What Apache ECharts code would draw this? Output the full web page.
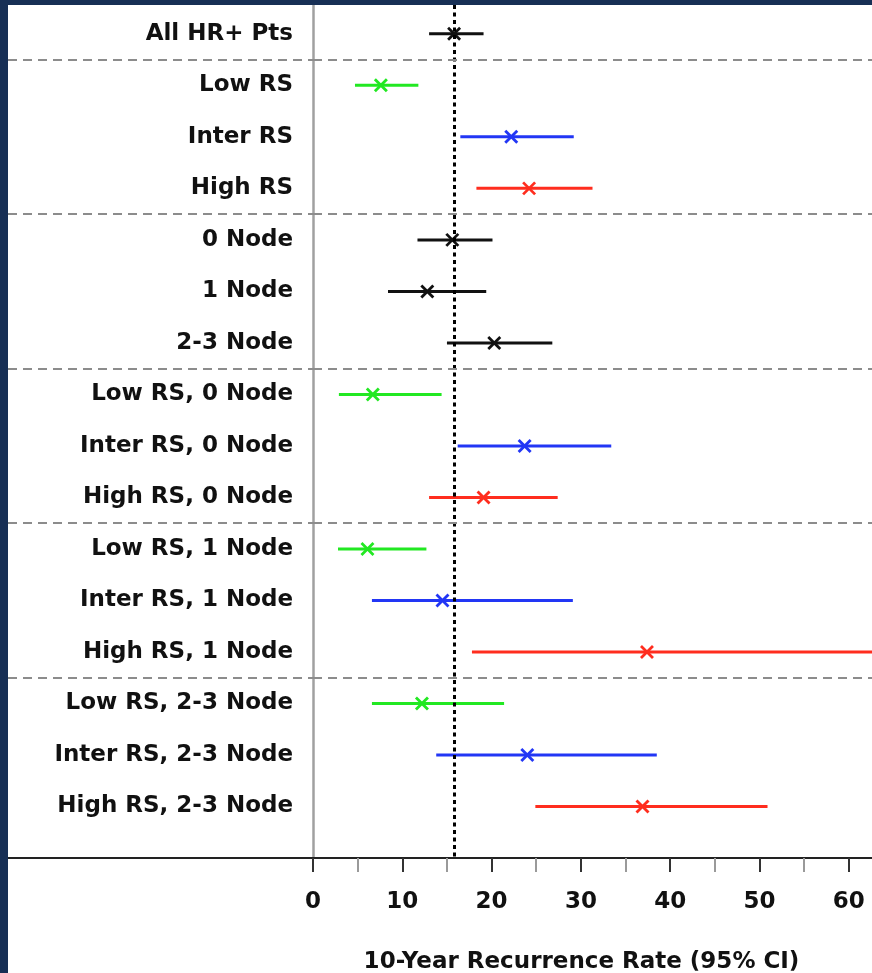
<!DOCTYPE html>
<html>
<head>
<meta charset="utf-8">
<script src="https://cdn.jsdelivr.net/npm/echarts@6/dist/echarts.min.js"></script>
<style>
  html, body { margin: 0; padding: 0; width: 872px; height: 973px; background: #172f55; overflow: hidden; }
  #chart { position: absolute; left: 8px; top: 5px; width: 864px; height: 968px; background: #ffffff; }
</style>
</head>
<body>
<div id="chart"></div>
<script>
const categories = ['All HR+ Pts', 'Low RS', 'Inter RS', 'High RS', '0 Node', '1 Node', '2-3 Node',
  'Low RS, 0 Node', 'Inter RS, 0 Node', 'High RS, 0 Node',
  'Low RS, 1 Node', 'Inter RS, 1 Node', 'High RS, 1 Node',
  'Low RS, 2-3 Node', 'Inter RS, 2-3 Node', 'High RS, 2-3 Node'];
const estimates = [15.8, 7.6, 22.2, 24.2, 15.6, 12.8, 20.3, 6.7, 23.7, 19.1, 6.1, 14.5, 37.4, 12.2, 24.0, 36.9];
const lowers    = [13.0, 4.7, 16.5, 18.3, 11.7, 8.4, 15.0, 2.9, 16.2, 13.0, 2.8, 6.6, 17.8, 6.6, 13.8, 24.9];
const uppers    = [19.1, 11.8, 29.2, 31.3, 20.1, 19.4, 26.8, 14.4, 33.4, 27.4, 12.7, 29.1, 72.0, 21.4, 38.5, 50.9];
const groups    = ['all', 'low', 'inter', 'high', 'all', 'all', 'all', 'low', 'inter', 'high', 'low', 'inter', 'high', 'low', 'inter', 'high'];
const overallRate = 15.8;
const separators = [0.5, 3.5, 6.5, 9.5, 12.5];
const majorTicks = [0, 10, 20, 30, 40, 50, 60];
const minorTicks = [5, 15, 25, 35, 45, 55];
const xTitle = '10-Year Recurrence Rate (95% CI)';

const groupColors = { all: '#111111', low: '#22e822', inter: '#2236f5', high: '#ff2d1e' };
const rowIndex = categories.map((c, i) => i);
const FONT = 'DejaVu Sans';

const data = categories.map((c, i) => [lowers[i], uppers[i], estimates[i], i]);

function renderItem(params, api) {
  const y = api.value(3);
  const p1 = api.coord([api.value(0), y]);
  const p2 = api.coord([api.value(1), y]);
  const pc = api.coord([api.value(2), y]);
  const color = groupColors[groups[params.dataIndex]];
  const s = 6;
  return {
    type: 'group',
    children: [
      { type: 'line', shape: { x1: p1[0], y1: p1[1], x2: p2[0], y2: p2[1] }, style: { stroke: color, lineWidth: 3 } },
      { type: 'line', shape: { x1: pc[0] - s, y1: pc[1] - s, x2: pc[0] + s, y2: pc[1] + s }, style: { stroke: color, lineWidth: 2.8 } },
      { type: 'line', shape: { x1: pc[0] - s, y1: pc[1] + s, x2: pc[0] + s, y2: pc[1] - s }, style: { stroke: color, lineWidth: 2.8 } }
    ]
  };
}

const sepLine = {
  silent: true, symbol: 'none', animation: false,
  label: { show: false },
  lineStyle: { color: '#8c8c8c', width: 2, type: [9, 6] },
  data: separators.map(v => ({ yAxis: v }))
};

const yRange = { min: -0.56, max: 16 };

const chart = echarts.init(document.getElementById('chart'));
chart.setOption({
  backgroundColor: '#ffffff',
  animation: false,
  grid: [
    { left: 305, right: 0, top: 0, height: 853, outerBoundsMode: 'none', containLabel: false },
    { left: 0, width: 305, top: 0, height: 853, outerBoundsMode: 'none', containLabel: false },
    { left: 305, right: 0, top: 0, height: 853, outerBoundsMode: 'none', containLabel: false }
  ],
  xAxis: [
    {
      type: 'value', gridIndex: 0, min: 0, max: 62.6, position: 'bottom',
      axisLine: { show: true, onZero: false, lineStyle: { color: '#222222', width: 2 } },
      axisTick: { show: true, customValues: majorTicks, length: 14, lineStyle: { color: '#333333', width: 2 } },
      axisLabel: { customValues: majorTicks, margin: 33, fontFamily: FONT, fontWeight: 'bold', fontSize: 23, color: '#111111' },
      splitLine: { show: false },
      name: xTitle, nameLocation: 'middle', nameGap: 93,
      nameTextStyle: { fontFamily: FONT, fontWeight: 'bold', fontSize: 23, color: '#111111', padding: [0, 22, 0, 0] }
    },
    {
      type: 'value', gridIndex: 1, min: 0, max: 1, position: 'bottom',
      axisLine: { show: true, onZero: false, lineStyle: { color: '#222222', width: 2 } },
      axisTick: { show: false }, axisLabel: { show: false }, splitLine: { show: false }
    },
    {
      type: 'value', gridIndex: 2, min: 0, max: 62.6, position: 'bottom',
      axisLine: { show: false, onZero: false },
      axisTick: { show: true, customValues: minorTicks, length: 14, lineStyle: { color: '#9a9a9a', width: 2 } },
      axisLabel: { show: false }, splitLine: { show: false }
    }
  ],
  yAxis: [
    {
      type: 'value', gridIndex: 0, inverse: true, min: yRange.min, max: yRange.max,
      axisLine: { show: true, onZero: false, lineStyle: { color: '#a0a0a0', width: 2.5 } },
      axisTick: { show: false }, splitLine: { show: false },
      axisLabel: {
        customValues: rowIndex, margin: 20, padding: [4, 0, 0, 0],
        formatter: v => categories[Math.round(v)],
        fontFamily: FONT, fontWeight: 'bold', fontSize: 23, color: '#111111'
      }
    },
    {
      type: 'value', gridIndex: 1, inverse: true, min: yRange.min, max: yRange.max,
      show: false
    },
    {
      type: 'value', gridIndex: 2, inverse: true, min: yRange.min, max: yRange.max,
      show: false
    }
  ],
  series: [
    {
      type: 'custom', xAxisIndex: 0, yAxisIndex: 0, clip: true, z: 3,
      renderItem: renderItem,
      data: data,
      markLine: {
        silent: true, symbol: 'none', animation: false,
        label: { show: false },
        lineStyle: { color: '#000000', width: 3, type: [4, 3.5] },
        data: [{ xAxis: overallRate }]
      }
    },
    {
      type: 'line', xAxisIndex: 0, yAxisIndex: 0, data: [], silent: true, z: 1,
      markLine: sepLine
    },
    {
      type: 'line', xAxisIndex: 1, yAxisIndex: 1, data: [], silent: true, z: 1,
      markLine: sepLine
    }
  ]
});
</script>
</body>
</html>
